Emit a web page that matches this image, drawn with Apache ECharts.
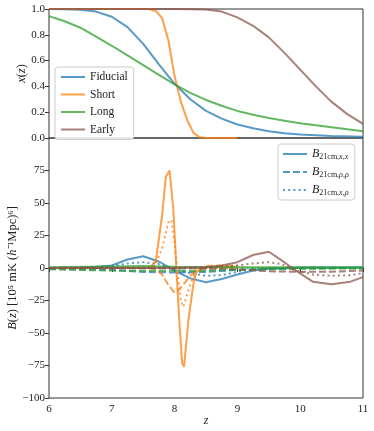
<!DOCTYPE html>
<html>
<head>
<meta charset="utf-8">
<script src="https://cdn.jsdelivr.net/npm/echarts@6/dist/echarts.min.js"></script>
<style>
  html, body { margin: 0; padding: 0; background: #fff; }
  #main { width: 374px; height: 431px; }
</style>
</head>
<body>
<div id="main"></div>
<script>
// top panel: ionisation history x(z), pairs [z, x]
const fiducialX = [[6,1.0],[6.25,0.999],[6.5,0.995],[6.75,0.98],[7,0.94],[7.25,0.86],[7.5,0.73],[7.75,0.57],[8,0.42],[8.25,0.3],[8.5,0.21],[8.75,0.15],[9,0.105],[9.25,0.075],[9.5,0.052],[9.75,0.037],[10,0.027],[10.5,0.016],[11,0.01]]
const shortX = [[6,1],[7.5,1],[7.6,0.998],[7.7,0.985],[7.8,0.93],[7.9,0.76],[8.0,0.48],[8.1,0.28],[8.2,0.14],[8.3,0.04],[8.4,0.005],[8.5,0],[9,0]]
const longX = [[6,0.945],[6.25,0.905],[6.5,0.855],[6.75,0.785],[7,0.715],[7.25,0.64],[7.5,0.565],[7.75,0.49],[8,0.415],[8.25,0.35],[8.5,0.295],[8.75,0.25],[9,0.21],[9.25,0.18],[9.5,0.155],[9.75,0.133],[10,0.115],[10.25,0.098],[10.5,0.083],[10.75,0.067],[11,0.052]]
const earlyX = [[6,1],[8,1],[8.5,0.997],[8.75,0.98],[9,0.935],[9.25,0.87],[9.5,0.78],[9.75,0.66],[10,0.53],[10.25,0.4],[10.5,0.28],[10.75,0.185],[11,0.11]]

// bottom panel: bispectrum B(z), pairs [z, B]
const fidXX = [[6,0],[6.5,0.3],[6.75,0.8],[7,2],[7.25,6.5],[7.5,9],[7.75,5],[8,-2],[8.25,-8],[8.5,-11],[8.75,-8.5],[9,-5],[9.25,-2],[9.5,-0.5],[10,0.3],[11,0.5]]
const fidRR = [[6,-0.5],[7,-1.5],[7.5,-3],[8,-3.5],[8.5,-3],[9,-1.5],[9.5,-0.5],[10,-0.2],[11,0]]
const fidXR = [[6,0],[6.5,0.3],[7,1.5],[7.25,3.5],[7.5,4.5],[7.75,3],[8,-1],[8.25,-4],[8.5,-6],[8.75,-5.5],[9,-3],[9.25,-1.2],[9.5,-0.3],[10,0],[11,0]]

const shortXX = [[6,0],[7.6,0],[7.7,5],[7.8,40],[7.86,70],[7.92,75],[7.98,45],[8.03,-2],[8.08,-45],[8.12,-73],[8.15,-76],[8.22,-40],[8.3,-12],[8.35,-3],[8.5,0.5],[9,1]]
const shortRR = [[6,0],[7.6,0],[7.7,-1],[7.8,-5],[7.9,-13],[8.0,-19],[8.05,-18],[8.15,-12],[8.25,-6],[8.35,-1],[8.5,1.5],[8.75,2],[9,1.5]]
const shortXR = [[6,0],[7.6,0],[7.7,3],[7.8,15],[7.9,35],[7.95,37],[8.0,20],[8.05,-5],[8.1,-25],[8.14,-30],[8.2,-20],[8.27,-10],[8.35,-2],[8.5,0.5],[9,1]]

const longXX = [[6,0.5],[7,1.2],[7.5,1.5],[8,1],[8.5,0.8],[9,0.5],[10,0.5],[11,0.3]]
const longRR = [[6,-1],[7,-2],[7.5,-2.2],[8,-2.2],[8.5,-2],[9,-1.5],[9.5,-1],[10,-0.6],[11,-0.3]]
const longXR = [[6,0.2],[7,0.5],[8,0],[9,-0.3],[10,0],[11,0]]

const earlyXX = [[6,0],[8,0],[8.5,0.5],[8.75,2],[9,4.5],[9.25,10],[9.5,12.5],[9.7,6],[9.9,-1],[10.2,-10.5],[10.5,-12.5],[10.8,-10.5],[11,-7]]
const earlyRR = [[6,0],[8.5,-0.3],[9,-1],[9.5,-2.5],[10,-3],[10.5,-2.8],[11,-2]]
const earlyXR = [[6,0],[8.5,0.3],[9,2],[9.25,3.5],[9.5,4.5],[9.7,3],[9.9,-1.5],[10.2,-5],[10.5,-6],[10.8,-5.5],[11,-4]]

const models = ['Fiducial', 'Short', 'Long', 'Early']
const colors = ['rgba(31,119,180,0.75)', 'rgba(255,127,14,0.75)', 'rgba(44,160,44,0.75)', 'rgba(140,86,75,0.75)']
const topData = [fiducialX, shortX, longX, earlyX]
const botData = [[fidXX, fidRR, fidXR], [shortXX, shortRR, shortXR], [longXX, longRR, longXR], [earlyXX, earlyRR, earlyXR]]
const kinds = ['xx', 'rr', 'xr']
const dashes = ['solid', [7, 3], [2, 3.2]]

const font = 'Liberation Serif'
const minus = v => v < 0 ? '\u2212' + (-v) : String(v)

let series = []
models.forEach(function (m, i) {
  series.push({
    name: m, type: 'line', xAxisIndex: 0, yAxisIndex: 0,
    data: topData[i], symbol: 'none', color: colors[i],
    lineStyle: { width: 2, color: colors[i] }
  })
})
models.forEach(function (m, i) {
  kinds.forEach(function (k, j) {
    series.push({
      name: m + ' ' + k, type: 'line', xAxisIndex: 1, yAxisIndex: 1,
      data: botData[i][j], symbol: 'none', color: colors[i],
      lineStyle: { width: 2, color: colors[i], type: dashes[j] }
    })
  })
})

const legLabels = {
  'Fiducial xx': '{b|B}{s|21cm,}{si|x}{s|,}{si|x}',
  'Fiducial rr': '{b|B}{s|21cm,}{si|ρ}{s|,}{si|ρ}',
  'Fiducial xr': '{b|B}{s|21cm,}{si|x}{s|,}{si|ρ}'
}

const tickStyle = { show: true, inside: false, length: 4, lineStyle: { color: '#333' } }
const labelStyle = { fontFamily: font, fontSize: 11, color: '#222' }

const chart = echarts.init(document.getElementById('main'))
chart.setOption({
  animation: false,
  backgroundColor: '#fff',
  grid: [
    { left: 49, top: 9, width: 314, height: 129, show: true, borderColor: '#333', borderWidth: 1, outerBoundsMode: 'none', containLabel: false },
    { left: 49, top: 138, width: 314, height: 260, show: true, borderColor: '#333', borderWidth: 1, outerBoundsMode: 'none', containLabel: false }
  ],
  legend: [
    {
      data: models, orient: 'vertical', left: 55, top: 67,
      itemWidth: 24, itemHeight: 10, itemGap: 5.5, padding: [4, 6, 4, 5],
      itemStyle: { opacity: 0 },
      backgroundColor: 'rgba(255,255,255,0.85)', borderColor: '#ccc', borderWidth: 1, borderRadius: 3,
      textStyle: { fontFamily: font, fontSize: 11.5, color: '#222' }
    },
    {
      data: Object.keys(legLabels), orient: 'vertical', left: 278, top: 144,
      itemWidth: 24, itemHeight: 10, itemGap: 5, padding: [4, 6, 3, 4],
      itemStyle: { opacity: 0 },
      backgroundColor: 'rgba(255,255,255,0.85)', borderColor: '#ccc', borderWidth: 1, borderRadius: 3,
      formatter: n => legLabels[n],
      textStyle: {
        fontFamily: font, fontSize: 11, color: '#222',
        rich: {
          b: { fontFamily: font, fontStyle: 'italic', fontSize: 12, color: '#222' },
          s: { fontFamily: font, fontSize: 8, color: '#222', verticalAlign: 'bottom', padding: [6, 0, 0, 0] },
          si: { fontFamily: font, fontStyle: 'italic', fontSize: 8, color: '#222', verticalAlign: 'bottom', padding: [6, 0, 0, 0] }
        }
      }
    }
  ],
  xAxis: [
    {
      type: 'value', gridIndex: 0, min: 6, max: 11, interval: 1,
      axisLine: { show: false }, axisTick: { show: false }, axisLabel: { show: false }, splitLine: { show: false }
    },
    {
      type: 'value', gridIndex: 1, min: 6, max: 11, interval: 1,
      axisLine: { show: false }, axisTick: tickStyle, splitLine: { show: false },
      axisLabel: Object.assign({ margin: 6 }, labelStyle),
      name: 'z', nameLocation: 'middle', nameGap: 17, nameMoveOverlap: false,
      nameTextStyle: { fontFamily: font, fontStyle: 'italic', fontSize: 12, color: '#222' }
    }
  ],
  yAxis: [
    {
      type: 'value', gridIndex: 0, min: 0, max: 1, interval: 0.2,
      axisLine: { show: false }, axisTick: tickStyle, splitLine: { show: false },
      axisLabel: Object.assign({ margin: 4, formatter: v => v.toFixed(1) }, labelStyle),
      name: '{i|x}({i|z})', nameLocation: 'middle', nameGap: 21, nameMoveOverlap: false,
      nameTextStyle: { fontFamily: font, fontSize: 12.5, color: '#222', rich: { i: { fontFamily: font, fontStyle: 'italic', fontSize: 12.5, color: '#222' } } }
    },
    {
      type: 'value', gridIndex: 1, min: -100, max: 100, interval: 25,
      axisLine: { show: false }, axisTick: tickStyle, splitLine: { show: false },
      axisLabel: Object.assign({ margin: 4, formatter: v => v >= 100 ? '' : minus(v) }, labelStyle),
      name: '{i|B}({i|z}) [10⁵ mK ({i|h}⁻¹Mpc)⁶]', nameLocation: 'middle', nameGap: 30, nameMoveOverlap: false,
      nameTextStyle: { fontFamily: font, fontSize: 12.5, color: '#222', rich: { i: { fontFamily: font, fontStyle: 'italic', fontSize: 12.5, color: '#222' } } }
    }
  ],
  series: series
})
</script>
</body>
</html>
